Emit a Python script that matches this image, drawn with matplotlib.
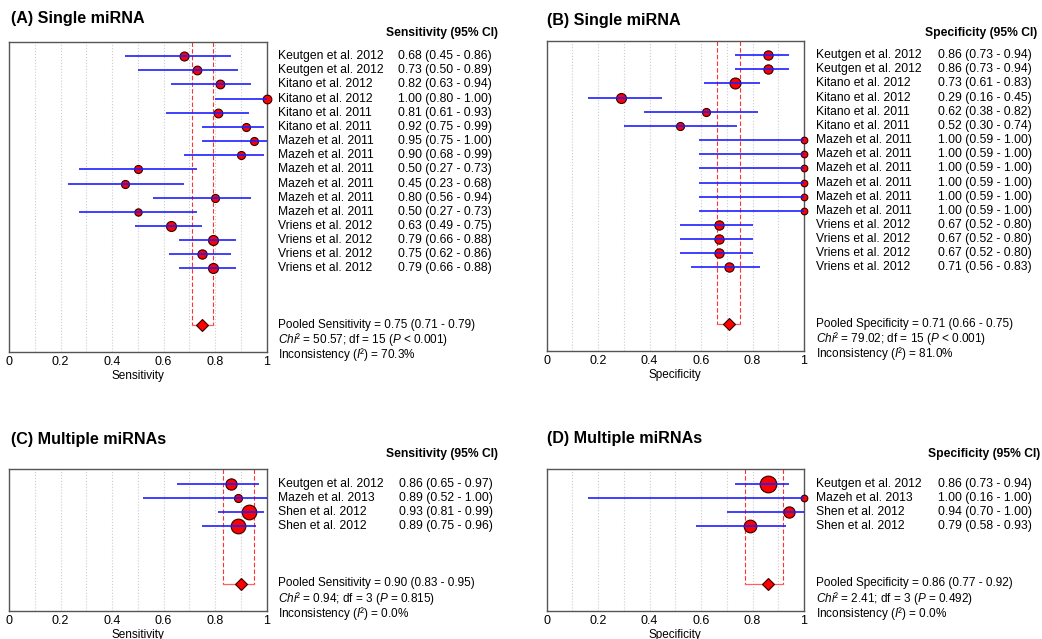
import matplotlib
matplotlib.use("Agg")
import matplotlib.pyplot as plt
from matplotlib import transforms as mtrans
import numpy as np

plt.rcParams['font.family'] = ['Liberation Sans', 'DejaVu Sans']
plt.rcParams['mathtext.fontset'] = 'custom'
plt.rcParams['mathtext.rm'] = 'Liberation Sans'
plt.rcParams['mathtext.it'] = 'Liberation Sans:italic'

# ---- data ----
names_single = ["Keutgen et al. 2012", "Keutgen et al. 2012", "Kitano et al. 2012", "Kitano et al. 2012",
                "Kitano et al. 2011", "Kitano et al. 2011", "Mazeh et al. 2011", "Mazeh et al. 2011",
                "Mazeh et al. 2011", "Mazeh et al. 2011", "Mazeh et al. 2011", "Mazeh et al. 2011",
                "Vriens et al. 2012", "Vriens et al. 2012", "Vriens et al. 2012", "Vriens et al. 2012"]
sens_a = [0.68, 0.73, 0.82, 1.00, 0.81, 0.92, 0.95, 0.90, 0.50, 0.45, 0.80, 0.50, 0.63, 0.79, 0.75, 0.79]
sens_a_lo = [0.45, 0.50, 0.63, 0.80, 0.61, 0.75, 0.75, 0.68, 0.27, 0.23, 0.56, 0.27, 0.49, 0.66, 0.62, 0.66]
sens_a_hi = [0.86, 0.89, 0.94, 1.00, 0.93, 0.99, 1.00, 0.99, 0.73, 0.68, 0.94, 0.73, 0.75, 0.88, 0.86, 0.88]
wt_sens_a = [6.4, 6.0, 6.0, 6.0, 6.0, 5.1, 5.1, 5.1, 5.1, 5.1, 5.1, 4.2, 7.9, 7.9, 6.8, 7.9]

spec_b = [0.86, 0.86, 0.73, 0.29, 0.62, 0.52, 1.00, 1.00, 1.00, 1.00, 1.00, 1.00, 0.67, 0.67, 0.67, 0.71]
spec_b_lo = [0.73, 0.73, 0.61, 0.16, 0.38, 0.30, 0.59, 0.59, 0.59, 0.59, 0.59, 0.59, 0.52, 0.52, 0.52, 0.56]
spec_b_hi = [0.94, 0.94, 0.83, 0.45, 0.82, 0.74, 1.00, 1.00, 1.00, 1.00, 1.00, 1.00, 0.80, 0.80, 0.80, 0.83]
wt_spec_b = [6.8, 6.8, 9.5, 7.9, 5.1, 5.1, 3.5, 3.5, 3.5, 3.5, 3.5, 3.5, 6.8, 6.8, 6.8, 6.8]

names_multi = ["Keutgen et al. 2012", "Mazeh et al. 2013", "Shen et al. 2012", "Shen et al. 2012"]
sens_c = [0.86, 0.89, 0.93, 0.89]
sens_c_lo = [0.65, 0.52, 0.81, 0.75]
sens_c_hi = [0.97, 1.00, 0.99, 0.96]
wt_sens_c = [10.0, 5.1, 17.0, 17.0]

spec_d = [0.86, 1.00, 0.94, 0.79]
spec_d_lo = [0.73, 0.16, 0.70, 0.58]
spec_d_hi = [0.94, 1.00, 1.00, 0.93]
wt_spec_d = [22.0, 3.5, 10.0, 12.7]

pooled_a = (0.75, 0.71, 0.79)
pooled_b = (0.71, 0.66, 0.75)
pooled_c = (0.90, 0.83, 0.95)
pooled_d = (0.86, 0.77, 0.92)

stats_a = ["Pooled Sensitivity = 0.75 (0.71 - 0.79)",
           r"$\mathit{Chi²}$ = 50.57; df = 15 ($\mathit{P}$ < 0.001)",
           r"Inconsistency ($\mathit{I²}$) = 70.3%"]
stats_b = ["Pooled Specificity = 0.71 (0.66 - 0.75)",
           r"$\mathit{Chi²}$ = 79.02; df = 15 ($\mathit{P}$ < 0.001)",
           r"Inconsistency ($\mathit{I²}$) = 81.0%"]
stats_c = ["Pooled Sensitivity = 0.90 (0.83 - 0.95)",
           r"$\mathit{Chi²}$ = 0.94; df = 3 ($\mathit{P}$ = 0.815)",
           r"Inconsistency ($\mathit{I²}$) = 0.0%"]
stats_d = ["Pooled Specificity = 0.86 (0.77 - 0.92)",
           r"$\mathit{Chi²}$ = 2.41; df = 3 ($\mathit{P}$ = 0.492)",
           r"Inconsistency ($\mathit{I²}$) = 0.0%"]

W, H = 1042, 639
fig = plt.figure(figsize=(W / 100, H / 100), dpi=100)


def px_axes(x0, y0, x1, y1):
    """axes from pixel box (top-left origin)"""
    return fig.add_axes([x0 / W, 1 - y1 / H, (x1 - x0) / W, (y1 - y0) / H])


def forest(ax, est, lo, hi, wt, pool, xlabel):
    """draws one forest plot"""
    n = len(est)
    rows = np.arange(n)
    ax.set_xlim(0, 1)
    ax.set_ylim(n + 4.9, -1)
    for g in np.arange(0.1, 0.95, 0.1):
        ax.axvline(g, color='#cccccc', lw=0.8, ls=':', zorder=0)
    p, plo, phi = pool
    # caja del resultado combinado
    for xv in (plo, phi):
        ax.plot([xv, xv], [-1, n + 3], color='#ff3030', lw=0.8, ls=(0, (4, 2)), zorder=1)
    ax.plot([plo, phi], [n + 3, n + 3], color='#ff6060', lw=0.9, zorder=1)
    for r, e, w in zip(rows, est, wt):
        ax.plot(e, r, 'o', ms=0.72 * 3.56 * np.sqrt(w), mfc='#ff0000', mec='#300000',
                mew=0.8, zorder=3, clip_on=False)
    ax.hlines(rows, lo, hi, color='#1f1fff', lw=1.2, zorder=4)
    ax.plot(p, n + 3, 'D', ms=6, mfc='#ff0000', mec='#300000', mew=0.8, zorder=5)
    ax.set_xticks([0, 0.2, 0.4, 0.6, 0.8, 1])
    ax.set_xticklabels(['0', '0.2', '0.4', '0.6', '0.8', '1'])
    ax.tick_params(axis='x', length=0, labelsize=9, pad=3)
    ax.set_yticks([])
    for s in ax.spines.values():
        s.set_color('#555555')
        s.set_linewidth(1)
    ax.set_xlabel(xlabel, fontsize=8.5, labelpad=1.5)


def side_text(ax, x_lab, x_val, names, est, lo, hi, stats):
    """study names, values and pooled stats to the right"""
    tr = mtrans.blended_transform_factory(fig.transFigure, ax.transData)
    n = len(names)
    for r in range(n):
        ax.text(x_lab / W, r, names[r], transform=tr, va='center', fontsize=8.7)
        ax.text(x_val / W, r, "%.2f (%.2f - %.2f)" % (est[r], lo[r], hi[r]),
                transform=tr, va='center', fontsize=8.7)
    for i, s in enumerate(stats):
        ax.text(x_lab / W, n + 2.97 + i * 1.06, s, transform=tr, va='center', fontsize=8.5)


def header(x_right, y, txt):
    fig.text(x_right / W, 1 - y / H, txt, ha='right', va='center', fontsize=8.7, weight='bold')


def title(x, y, txt):
    fig.text(x / W, 1 - y / H, txt, ha='left', va='center', fontsize=11.6, weight='bold')


ax_a = px_axes(9, 42, 266.7, 352)
forest(ax_a, sens_a, sens_a_lo, sens_a_hi, wt_sens_a, pooled_a, "Sensitivity")
side_text(ax_a, 278.3, 398.3, names_single, sens_a, sens_a_lo, sens_a_hi, stats_a)
header(497.7, 33.3, "Sensitivity (95% CI)")
title(11, 18, "(A) Single miRNA")

ax_b = px_axes(546.7, 41, 804, 351)
forest(ax_b, spec_b, spec_b_lo, spec_b_hi, wt_spec_b, pooled_b, "Specificity")
side_text(ax_b, 815.7, 938.3, names_single, spec_b, spec_b_lo, spec_b_hi, stats_b)
header(1037.5, 33.3, "Specificity (95% CI)")
title(547, 20, "(B) Single miRNA")

ax_c = px_axes(9, 469.3, 266.7, 610.7)
forest(ax_c, sens_c, sens_c_lo, sens_c_hi, wt_sens_c, pooled_c, "Sensitivity")
side_text(ax_c, 278.3, 399, names_multi, sens_c, sens_c_lo, sens_c_hi, stats_c)
header(497.7, 454.3, "Sensitivity (95% CI)")
title(11, 439.3, "(C) Multiple miRNAs")

ax_d = px_axes(546.7, 469.3, 804, 610.7)
forest(ax_d, spec_d, spec_d_lo, spec_d_hi, wt_spec_d, pooled_d, "Specificity")
side_text(ax_d, 815.7, 938.3, names_multi, spec_d, spec_d_lo, spec_d_hi, stats_d)
header(1040, 453.7, "Specificity (95% CI)")
title(547, 439, "(D) Multiple miRNAs")

fig.savefig("out.png", dpi=100)
